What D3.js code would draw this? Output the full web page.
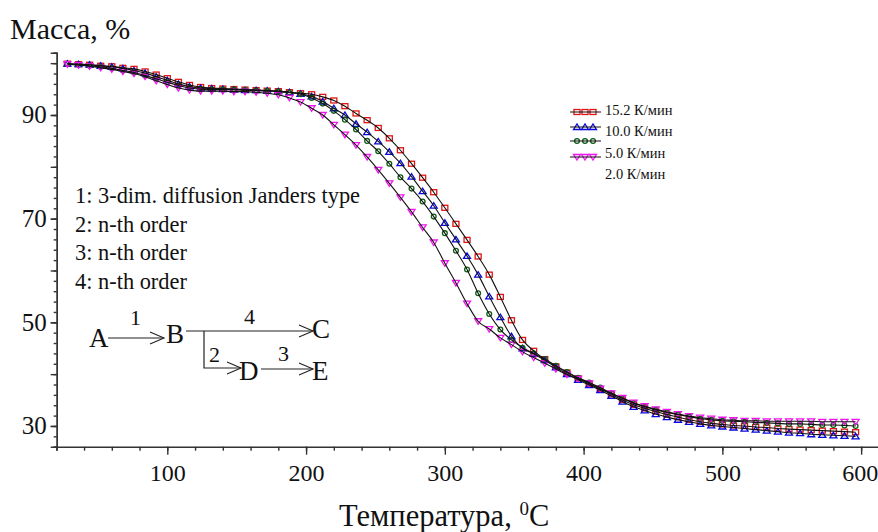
<!DOCTYPE html>
<html>
<head>
<meta charset="utf-8">
<script src="https://cdn.jsdelivr.net/npm/d3@7/dist/d3.min.js"></script>
<style>
html,body{margin:0;padding:0;background:#fff}
svg{display:block}
text{font-family:"Liberation Serif",serif;fill:#111}
</style>
</head>
<body>
<svg id="c" width="878" height="532"></svg>
<script>
const temps = [28,36,44,52,60,68,76,84,92,100,108,116,124,132,140,148,156,164,172,180,188,196,204,212,220,228,236,244,252,260,268,276,284,292,300,308,316,324,332,340,348,356,364,372,380,388,396,404,412,420,428,436,444,452,460,468,476,484,492,500,508,516,524,532,540,548,556,564,572,580,588,596];
const mass152 = [99.9,99.8,99.7,99.5,99.4,99.1,98.9,98.4,97.8,97.1,96.4,95.8,95.4,95.2,95.1,95.0,94.9,94.8,94.7,94.6,94.4,94.2,94.0,93.5,92.8,91.7,90.3,89.0,87.5,85.5,83.2,80.6,77.9,75.1,72.1,69.0,65.9,62.7,59.2,54.9,50.4,46.6,44.5,42.9,41.5,40.3,39.2,38.1,37.1,36.1,35.0,34.1,33.4,32.8,32.2,31.7,31.2,30.8,30.5,30.3,30.1,30.0,29.8,29.7,29.5,29.4,29.3,29.2,29.1,29.0,28.9,28.8];
const mass100 = [99.9,99.8,99.7,99.5,99.3,99.0,98.6,98.1,97.4,96.7,96.0,95.5,95.2,95.1,95.0,94.9,94.8,94.8,94.7,94.6,94.4,94.1,93.6,92.6,91.3,90.0,88.3,86.7,84.9,82.9,80.7,78.1,75.3,72.5,69.2,66.0,62.8,59.2,55.0,51.0,47.3,45.0,43.9,42.7,41.3,40.0,38.9,37.9,36.9,35.8,34.7,33.7,33.0,32.3,31.7,31.2,30.8,30.4,30.1,29.9,29.7,29.5,29.3,29.1,28.9,28.7,28.6,28.4,28.3,28.2,28.1,28.0];
const mass50 = [99.9,99.7,99.5,99.3,99.0,98.6,98.2,97.6,97.0,96.3,95.7,95.2,95.0,94.9,94.9,94.9,94.8,94.7,94.6,94.5,94.3,94.0,93.3,92.2,90.8,89.1,87.2,85.0,83.0,80.6,78.0,75.8,73.3,70.4,67.2,63.8,60.2,55.6,51.6,48.6,46.6,45.1,44.0,42.9,41.6,40.4,39.3,38.4,37.4,36.3,35.3,34.4,33.7,33.1,32.6,32.2,31.8,31.4,31.2,31.0,30.9,30.8,30.7,30.6,30.5,30.4,30.4,30.3,30.2,30.2,30.1,30.0];
const mass20 = [99.8,99.6,99.4,99.1,98.8,98.4,98.0,97.4,96.6,95.9,95.2,94.8,94.6,94.6,94.6,94.5,94.5,94.4,94.2,93.9,93.3,92.5,91.3,90.0,88.1,86.2,84.2,81.9,79.4,76.8,74.1,71.3,68.3,65.4,61.4,57.6,53.6,50.2,48.7,47.0,45.7,44.3,43.2,42.1,41.0,39.9,39.1,38.2,37.2,36.3,35.4,34.5,33.8,33.2,32.7,32.3,31.9,31.6,31.4,31.2,31.1,31.0,31.0,30.9,30.9,30.9,30.9,30.9,30.8,30.8,30.8,30.8];
const seriesNames = ["15.2 К/мин","10.0 К/мин","5.0 К/мин","2.0 К/мин"];
const seriesData = [mass152,mass100,mass50,mass20];
const seriesColors = ["#e01414","#0808dc","#0d5c12","#f014ee"];
const seriesSymbols = ["square","up","circle","down"];
const xMajor = [100,200,300,400,500,600];
const yMajor = [30,50,70,90];
const notes = ["1: 3-dim. diffusion Janders type","2: n-th order","3: n-th order","4: n-th order"];

const svg = d3.select("#c");
const x = d3.scaleLinear().domain([20.3,628]).range([56.7,900]);
const y = d3.scaleLinear().domain([26,102]).range([446.7,52.8]);

const xMinor = d3.range(20,621,20);
const yAll = d3.range(26,103,2);

const axX = svg.append("g").attr("transform","translate(0,446.7)");
axX.call(d3.axisBottom(x).tickValues(xMinor).tickSize(4).tickFormat(""));
axX.append("g").call(d3.axisBottom(x).tickValues(xMajor).tickSize(8).tickFormat(d3.format("d")).tickPadding(9));
axX.selectAll("path.domain").filter((d,i)=>i===1).remove();
axX.selectAll("text").attr("font-size",24).attr("font-family","Liberation Serif").attr("fill","#111");
axX.selectAll("text").filter(d=>d===600).attr("text-anchor","end").attr("dx",16.5);

const axY = svg.append("g").attr("transform","translate(56.7,0)");
axY.call(d3.axisLeft(y).tickValues(yAll).tickSize(3).tickFormat(""));
axY.append("g").call(d3.axisLeft(y).tickValues(d3.range(30,101,10)).tickSize(6).tickFormat(""));
axY.append("g").call(d3.axisLeft(y).tickValues(yMajor).tickSize(6).tickFormat(d3.format("d")).tickPadding(4))
   .select("path.domain").remove();
axY.selectAll("text").attr("font-size",25).attr("font-family","Liberation Serif").attr("fill","#111");
svg.selectAll(".domain,.tick line").attr("stroke","#333").attr("stroke-width",1.4);

function marker(g,kind,px,py,col){
  const r=3;
  let p;
  if(kind==="square") p=g.append("rect").attr("x",px-r).attr("y",py-r+0.5).attr("width",2*r).attr("height",2*r-1);
  else if(kind==="circle") p=g.append("circle").attr("cx",px).attr("cy",py).attr("r",2.4);
  else {
    const s=kind==="up"?-1:1;
    p=g.append("path").attr("d",`M${px-r-0.5},${py-s*2.5}L${px+r+0.5},${py-s*2.5}L${px},${py+s*3}Z`);
  }
  p.attr("fill","none").attr("stroke",col).attr("stroke-width",1.3);
}

const line = d3.line().x(d=>x(d[0])).y(d=>y(d[1])).curve(d3.curveMonotoneX);
seriesData.forEach((vals,i)=>{
  const g=svg.append("g");
  temps.forEach((t,j)=>marker(g,seriesSymbols[i],x(t),y(vals[j]),seriesColors[i]));
});
seriesData.forEach(vals=>{
  svg.append("path").attr("d",line(temps.map((t,j)=>[t,vals[j]])))
    .attr("fill","none").attr("stroke","#111").attr("stroke-width",1.1);
});

const legLineY=[112,127,141,157], legTextY=[115,136,158,179];
seriesNames.forEach((n,i)=>{
  const g=svg.append("g");
  [577,585,593].forEach(px=>marker(g,seriesSymbols[i],px,legLineY[i],seriesColors[i]));
  g.append("line").attr("x1",570).attr("x2",601).attr("y1",legLineY[i]).attr("y2",legLineY[i]).attr("stroke","#111").attr("stroke-width",1);
  g.append("text").attr("x",605).attr("y",legTextY[i]).attr("font-size",14.5).text(n);
});

svg.append("text").attr("x",10).attr("y",39).attr("font-size",30).text("Масса, %");
const xl=svg.append("text").attr("x",339).attr("y",526).attr("font-size",30.5);
xl.append("tspan").text("Температура, ");
xl.append("tspan").attr("font-size",19).attr("dy",-11).text("0");
xl.append("tspan").attr("dy",11).text("C");

const noteY=[203,232,260,289];
notes.forEach((t,i)=>svg.append("text").attr("x",75).attr("y",noteY[i]).attr("font-size",22.4).text(t));

const sch=svg.append("g");
function arrow(pts){
  sch.append("path").attr("d",d3.line()(pts)).attr("fill","none").attr("stroke","#222").attr("stroke-width",1.2);
  const [ex,ey]=pts[pts.length-1];
  sch.append("path").attr("d",`M${ex-14},${ey-6}L${ex},${ey}L${ex-14},${ey+6}`).attr("fill","none").attr("stroke","#222").attr("stroke-width",1.1);
}
arrow([[108,338],[164,338]]);
arrow([[186,331],[313,331]]);
arrow([[204,331],[204,368],[241,368]]);
arrow([[261,369],[313,369]]);
const lab=[["A",89,347,27],["B",166,343,27],["C",312,338,27],["D",239,380,27],["E",312,380,27],
           ["1",130,325,22],["4",244,324,22],["2",209,362,22],["3",278,361,22]];
lab.forEach(d=>sch.append("text").attr("x",d[1]).attr("y",d[2]).attr("font-size",d[3]).text(d[0]));
</script>
</body>
</html>
